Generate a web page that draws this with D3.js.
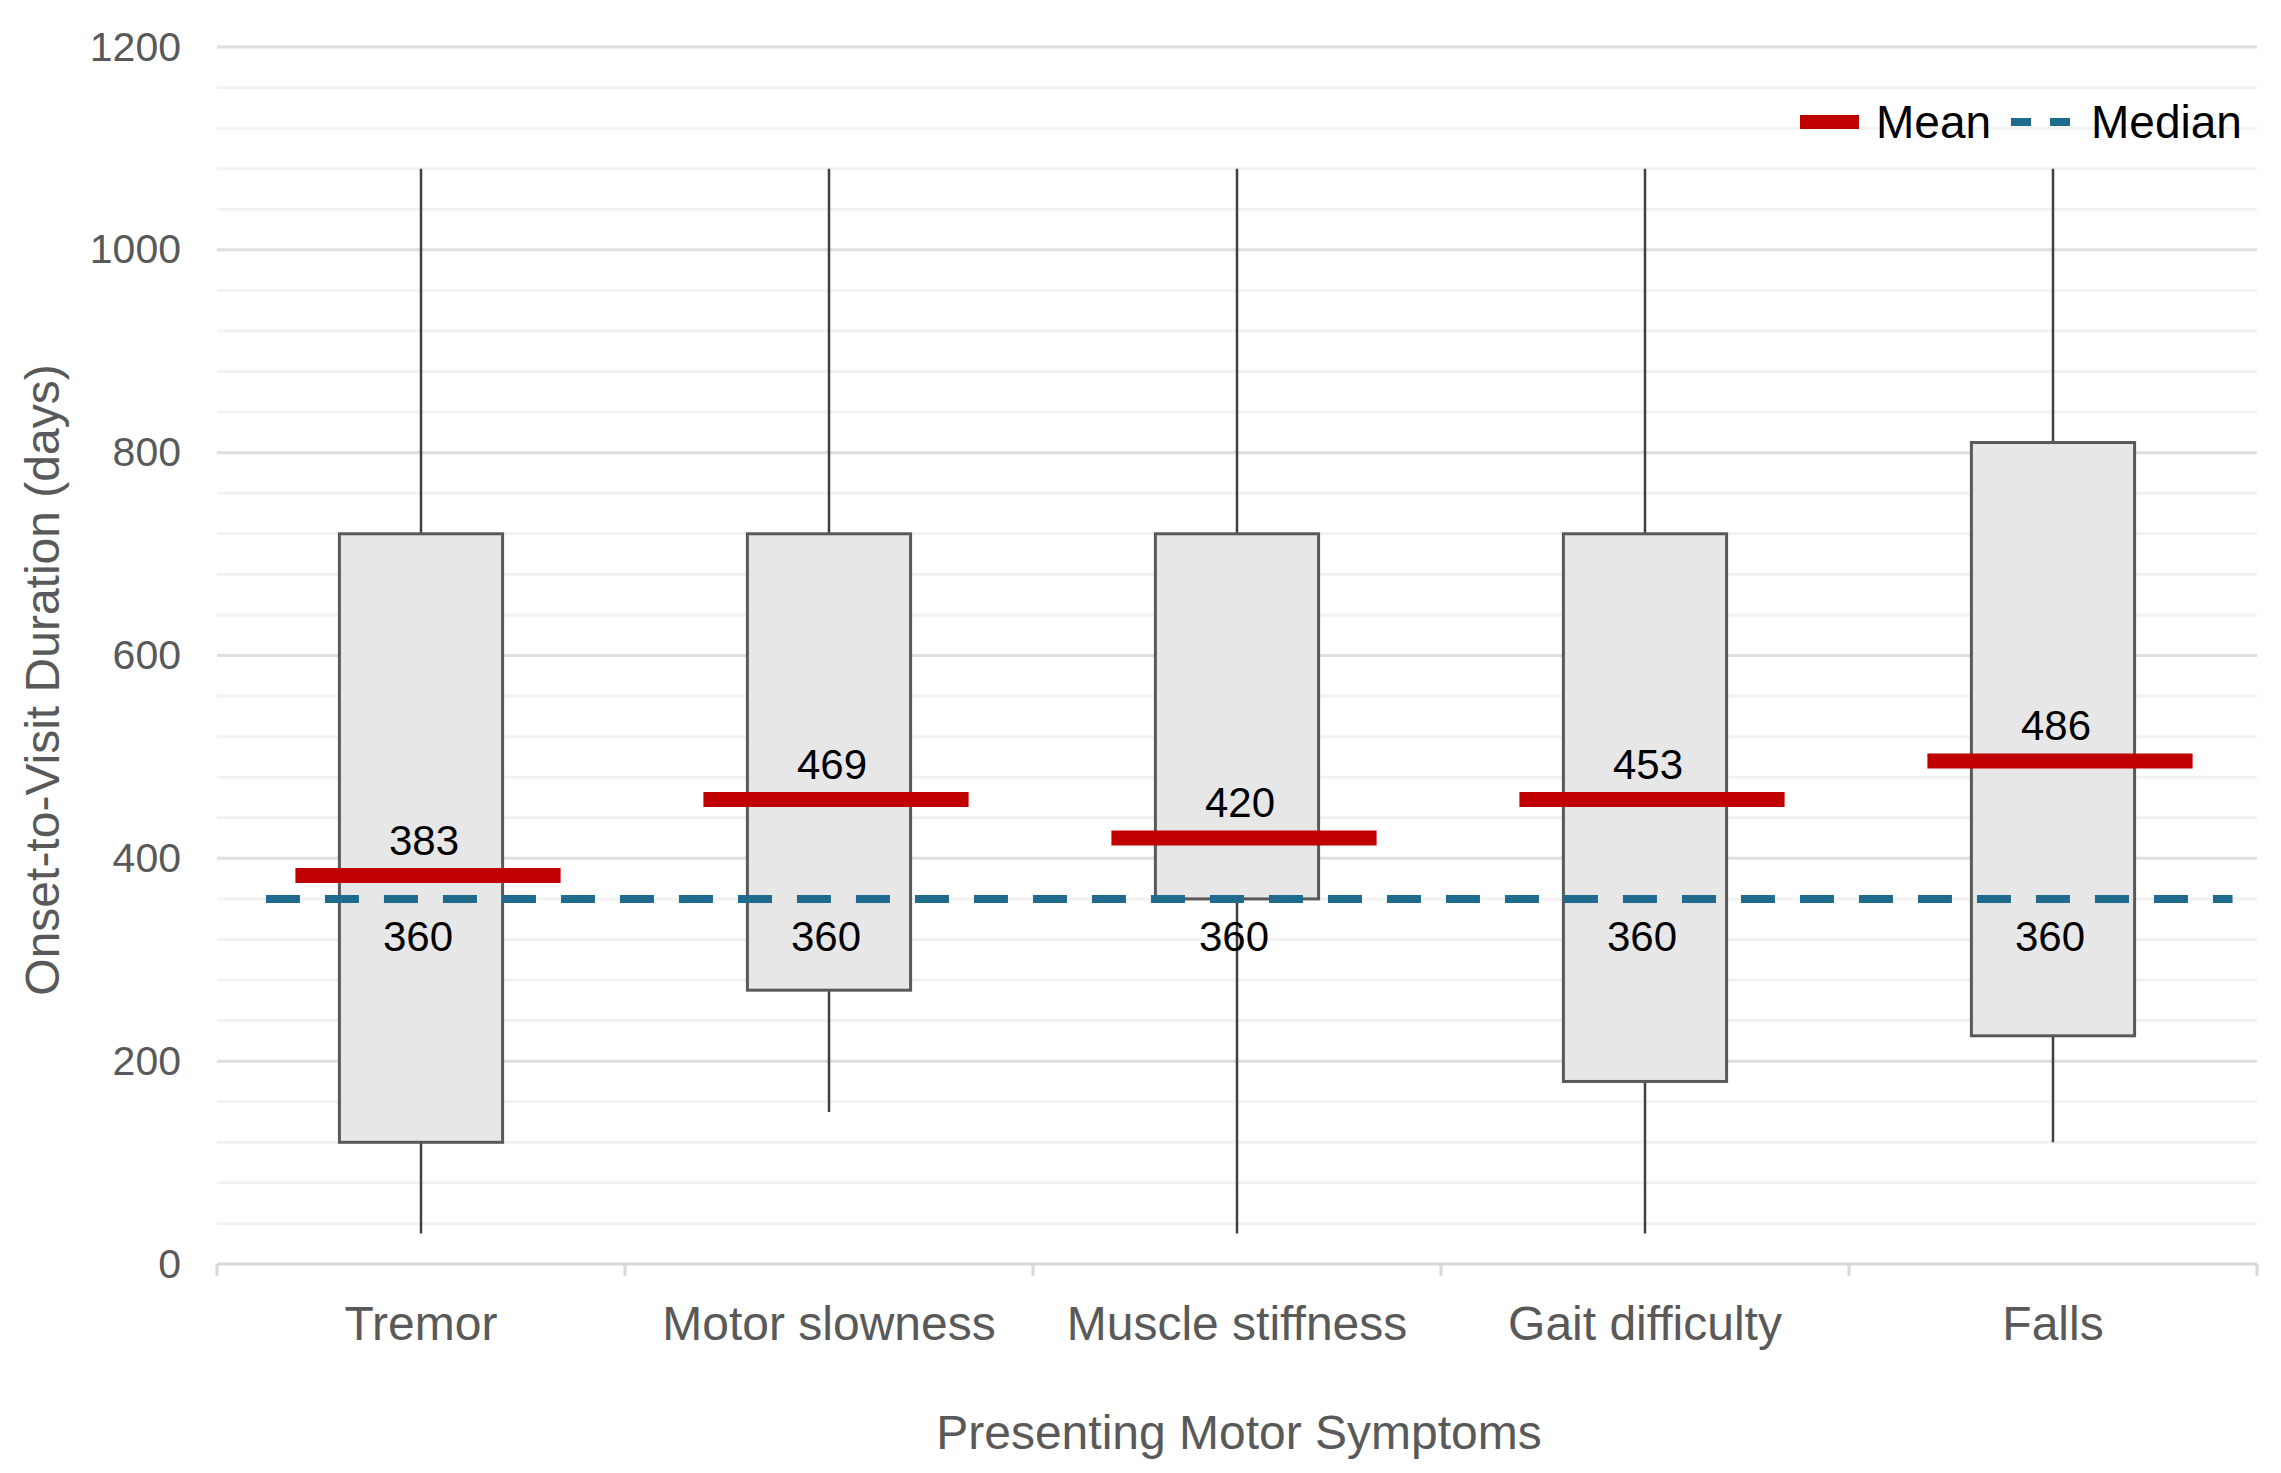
<!DOCTYPE html>
<html>
<head>
<meta charset="utf-8">
<script src="https://cdn.jsdelivr.net/npm/d3@7"></script>
<style>
  body { margin: 0; background: #fff; }
  text { font-family: 'Liberation Sans', Arial, sans-serif; }
</style>
</head>
<body>
<div id="graf"></div>
<script>
// I. Datos
categorias  = ['Tremor', 'Motor slowness', 'Muscle stiffness', 'Gait difficulty', 'Falls']
bigoteBajo  = [30, 150, 30, 30, 120]
q1          = [120, 270, 360, 180, 225]
q3          = [720, 720, 720, 720, 810]
bigoteAlto  = [1080, 1080, 1080, 1080, 1080]
mediana     = [360, 360, 360, 360, 360]
media       = [383, 469, 420, 453, 486]
// altura a la que la figura dibuja la barra roja de la media
mediaNivel  = [383, 458, 420, 458, 496]
yTicks      = [0, 200, 400, 600, 800, 1000, 1200]

data = categorias.map((c, i) => ({
  cat: c, lo: bigoteBajo[i], q1: q1[i], q3: q3[i], hi: bigoteAlto[i],
  med: mediana[i], mean: media[i], nivel: mediaNivel[i]
}))

// II. Configuración
ancho_total = 2281
alto_total = 1473
margins = { top: 47, left: 217, right: 24, bottom: 209 }
ancho = ancho_total - margins.left - margins.right
alto  = alto_total - margins.top - margins.bottom

svg = d3.select('#graf').append('svg')
        .attr('width', ancho_total)
        .attr('height', alto_total)

g = svg.append('g')
       .attr('transform', `translate(${ margins.left }, ${ margins.top })`)

y = d3.scaleLinear()
      .domain([0, 1200])
      .range([alto, 0])

x = d3.scaleBand()
      .domain(categorias)
      .range([0, ancho])

bw = x.bandwidth()
cx = d => x(d) + bw / 2

// III. Rejilla
g.selectAll('.menor')
  .data(d3.range(40, 1200, 40).filter(v => v % 200 != 0))
  .enter().append('line')
    .attr('x1', 0).attr('x2', ancho)
    .attr('y1', d => y(d)).attr('y2', d => y(d))
    .attr('stroke', '#f2f2f2')
    .attr('stroke-width', 3)

g.selectAll('.mayor')
  .data(yTicks.filter(v => v > 0))
  .enter().append('line')
    .attr('x1', 0).attr('x2', ancho)
    .attr('y1', d => y(d)).attr('y2', d => y(d))
    .attr('stroke', '#dedede')
    .attr('stroke-width', 3)

// ejes
yAxisGroup = g.append('g')
  .call(d3.axisLeft(y).tickValues(yTicks).tickFormat(d3.format('d')).tickSize(0).tickPadding(36))
yAxisGroup.select('.domain').remove()
yAxisGroup.selectAll('text')
  .attr('fill', '#595959')
  .style('font-size', '41px')

xAxisGroup = g.append('g')
  .attr('transform', `translate(0, ${ alto })`)
xAxisGroup.append('line')
  .attr('x1', 0).attr('x2', ancho)
  .attr('stroke', '#d9d9d9')
  .attr('stroke-width', 3)
xAxisGroup.selectAll('.tick')
  .data(categorias.map(c => x(c)).concat([ancho]))
  .enter().append('line')
    .attr('x1', d => d).attr('x2', d => d)
    .attr('y1', 0).attr('y2', 12)
    .attr('stroke', '#d9d9d9')
    .attr('stroke-width', 3)
xAxisGroup.selectAll('.etiqueta')
  .data(categorias)
  .enter().append('text')
    .attr('x', d => cx(d))
    .attr('y', 76)
    .attr('text-anchor', 'middle')
    .attr('fill', '#595959')
    .style('font-size', '48px')
    .text(d => d)

// títulos
g.append('text')
  .attr('x', ancho / 2 + 2)
  .attr('y', alto + 185)
  .attr('text-anchor', 'middle')
  .attr('fill', '#595959')
  .style('font-size', '48px')
  .text('Presenting Motor Symptoms')

svg.append('text')
  .attr('transform', `translate(59, 680) rotate(-90)`)
  .attr('text-anchor', 'middle')
  .attr('fill', '#595959')
  .style('font-size', '48px')
  .text('Onset-to-Visit Duration (days)')

// IV. Cajas
cajaAncho = bw * 0.4

g.selectAll('.bigote')
  .data(data)
  .enter().append('line')
    .attr('x1', d => cx(d.cat)).attr('x2', d => cx(d.cat))
    .attr('y1', d => y(d.lo)).attr('y2', d => y(d.hi))
    .attr('stroke', '#404040')
    .attr('stroke-width', 2.5)

g.selectAll('.caja')
  .data(data)
  .enter().append('rect')
    .attr('x', d => cx(d.cat) - cajaAncho / 2)
    .attr('y', d => y(d.q3))
    .attr('width', cajaAncho)
    .attr('height', d => y(d.q1) - y(d.q3))
    .attr('fill', '#e7e7e7')
    .attr('stroke', '#595959')
    .attr('stroke-width', 3)

// mediana (línea discontinua)
lineaMediana = d3.line().x(d => d[0]).y(d => y(d[1]))
puntos = [[cx(categorias[0]) - bw * 0.38, mediana[0]]]
  .concat(data.map(d => [cx(d.cat), d.med]))
  .concat([[cx(categorias[4]) + bw * 0.44, mediana[4]]])
g.append('path')
  .attr('d', lineaMediana(puntos))
  .attr('fill', 'none')
  .attr('stroke', '#1f6b8e')
  .attr('stroke-width', 8)
  .attr('stroke-dasharray', '34 25')

// media (barra roja)
mediaAncho = bw * 0.65
g.selectAll('.media')
  .data(data)
  .enter().append('line')
    .attr('x1', d => cx(d.cat) - mediaAncho / 2 + 7)
    .attr('x2', d => cx(d.cat) + mediaAncho / 2 + 7)
    .attr('y1', d => y(d.nivel)).attr('y2', d => y(d.nivel))
    .attr('stroke', '#c00000')
    .attr('stroke-width', 15)

g.selectAll('.mediaTxt')
  .data(data)
  .enter().append('text')
    .attr('x', d => cx(d.cat) + 3)
    .attr('y', d => y(d.nivel) - 21)
    .attr('text-anchor', 'middle')
    .attr('fill', '#000')
    .style('font-size', '42px')
    .text(d => d.mean)

g.selectAll('.medTxt')
  .data(data)
  .enter().append('text')
    .attr('x', d => cx(d.cat) - 3)
    .attr('y', d => y(d.med) + 52)
    .attr('text-anchor', 'middle')
    .attr('fill', '#000')
    .style('font-size', '42px')
    .text(d => d.med)

// V. Leyenda
ley = svg.append('g')
ley.append('line')
  .attr('x1', 1800).attr('x2', 1859)
  .attr('y1', 122).attr('y2', 122)
  .attr('stroke', '#c00000')
  .attr('stroke-width', 14)
ley.append('text')
  .attr('x', 1876).attr('y', 138)
  .attr('fill', '#000')
  .style('font-size', '46px')
  .text('Mean')
ley.append('line')
  .attr('x1', 2011).attr('x2', 2071)
  .attr('y1', 122).attr('y2', 122)
  .attr('stroke', '#1f6b8e')
  .attr('stroke-width', 8)
  .attr('stroke-dasharray', '20 19')
ley.append('text')
  .attr('x', 2091).attr('y', 138)
  .attr('fill', '#000')
  .style('font-size', '46px')
  .text('Median')
</script>
</body>
</html>
